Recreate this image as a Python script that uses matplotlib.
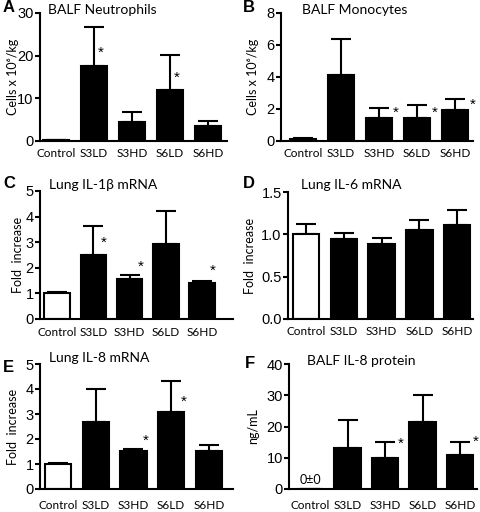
import numpy as np
import matplotlib
matplotlib.use("Agg")
import matplotlib.pyplot as plt

groups = ["Control", "S3LD", "S3HD", "S6LD", "S6HD"]

# panel A - BALF neutrophils
neut_mean = [0.2, 17.6, 4.5, 11.9, 3.5]
neut_err = [0.0, 9.2, 2.3, 8.2, 1.2]
neut_sig = [0, 1, 0, 1, 0]

# panel B - BALF monocytes
mono_mean = [0.15, 4.12, 1.44, 1.44, 1.92]
mono_err = [0.05, 2.23, 0.62, 0.78, 0.70]
mono_sig = [0, 0, 1, 1, 1]

# panel C - lung IL-1b mRNA
il1b_mean = [1.0, 2.5, 1.58, 2.92, 1.42]
il1b_err = [0.07, 1.12, 0.15, 1.28, 0.08]
il1b_sig = [0, 1, 1, 0, 1]

# panel D - lung IL-6 mRNA
il6_mean = [1.0, 0.95, 0.89, 1.05, 1.11]
il6_err = [0.12, 0.07, 0.07, 0.12, 0.18]
il6_sig = [0, 0, 0, 0, 0]

# panel E - lung IL-8 mRNA
il8_mean = [1.0, 2.68, 1.53, 3.08, 1.53]
il8_err = [0.06, 1.34, 0.07, 1.25, 0.23]
il8_sig = [0, 0, 1, 1, 0]

# panel F - BALF IL-8 protein
il8p_mean = [0.0, 13.2, 10.0, 21.3, 10.8]
il8p_err = [0.0, 9.0, 5.0, 8.7, 4.2]
il8p_sig = [0, 0, 1, 0, 1]

W, H = 480, 512
SANS = ["Lato", "DejaVu Sans"]
ARIAL = ["Liberation Sans", "DejaVu Sans"]

fig = plt.figure(figsize=(4.8, 5.12), dpi=100)


def px(x0, y0, x1, y1):
    # pixel box -> figure fraction rect
    return [x0 / W, 1 - y1 / H, (x1 - x0) / W, (y1 - y0) / H]


def panel(rect, mean, err, sig, ticks, fmt, ylabel, title, letter, letter_xy,
          title_xy, ylab_x, xlim, ctrl_white, star_dx, star_dy, label_pad):
    ax = fig.add_axes(px(*rect))
    x = np.arange(len(groups))
    colors = ["white" if (i == 0 and ctrl_white) else "black" for i in range(len(groups))]
    ax.errorbar(x, mean, yerr=[np.zeros(len(err)), err], fmt="none", ecolor="black",
                elinewidth=1.5, capsize=7, capthick=1.5, zorder=1)
    ax.bar(x, mean, width=0.7, color=colors, edgecolor="black", linewidth=1.5, zorder=2)
    ymax = ticks[-1]
    for i, s in enumerate(sig):
        if s:
            ax.text(x[i] + star_dx, mean[i] + star_dy * ymax, "*", ha="center", va="center",
                    fontsize=11, family=ARIAL)
    ax.set_ylim(0, ymax)
    ax.set_xlim(*xlim)
    ax.set_yticks(ticks)
    ax.set_yticklabels([fmt.format(t) for t in ticks], family=ARIAL, fontsize=10.5)
    ax.set_xticks(x)
    ax.set_xticklabels(groups, family=SANS, fontsize=8.5)
    ax.tick_params(axis="x", length=0, pad=label_pad)
    ax.tick_params(axis="y", length=3.5, width=1.5, pad=1)
    for s in ["top", "right"]:
        ax.spines[s].set_visible(False)
    for s in ["left", "bottom"]:
        ax.spines[s].set_linewidth(1.5)
    ax.set_ylabel(ylabel, family=SANS, fontsize=9)
    ax.yaxis.set_label_coords((ylab_x + 4) / W, 1 - (rect[1] + rect[3]) / 2 / H,
                              transform=fig.transFigure)
    fig.text(title_xy[0] / W, 1 - title_xy[1] / H, title, family=SANS, fontsize=10,
             ha="left", va="center")
    fig.text(letter_xy[0] / W, 1 - letter_xy[1] / H, letter, family=ARIAL, fontsize=12,
             fontweight="bold", ha="left", va="center")
    return ax


panel((40, 13, 227, 141), neut_mean, neut_err, neut_sig, [0, 10, 20, 30], "{:g}",
      "Cells x 10\u2076/kg", "BALF Neutrophils", "A", (3, 8), (48, 10), 15,
      (-0.42, 4.5), False, 0.17, 0.10, 5)

panel((281, 13, 473, 141), mono_mean, mono_err, mono_sig, [0, 2, 4, 6, 8], "{:g}",
      "Cells x 10\u2076/kg", "BALF Monocytes", "B", (243, 8), (302, 10), 255,
      (-0.58, 4.47), False, 0.45, 0.04, 5)

panel((40, 191, 233, 319), il1b_mean, il1b_err, il1b_sig, [0, 1, 2, 3, 4, 5], "{:g}",
      "Fold  increase", "Lung IL-1\u03b2 mRNA", "C", (3, 183), (49, 185), 20,
      (-0.47, 4.85), True, 0.3, 0.095, 6)

panel((288, 192, 473, 319), il6_mean, il6_err, il6_sig, [0.0, 0.5, 1.0, 1.5], "{:.1f}",
      "Fold  increase", "Lung IL-6 mRNA", "D", (243, 183), (301, 185), 252,
      (-0.48, 4.42), True, 0.3, 0.1, 5)

panel((40, 364, 233, 489), il8_mean, il8_err, il8_sig, [0, 1, 2, 3, 4, 5], "{:g}",
      "Fold  increase", "Lung IL-8 mRNA", "E", (3, 367), (49, 358), 15,
      (-0.48, 4.64), True, 0.32, 0.08, 8)

axf = panel((289, 364, 477, 489), il8p_mean, il8p_err, il8p_sig, [0, 10, 20, 30, 40], "{:g}",
            "ng/mL", "BALF IL-8 protein", "F", (245, 364), (307, 361), 255,
            (-0.56, 4.45), False, 0.42, 0.11, 8)
axf.text(0, 3, "0\u00b10", ha="center", va="center", family=SANS, fontsize=9)

fig.savefig("out.png", dpi=100)
